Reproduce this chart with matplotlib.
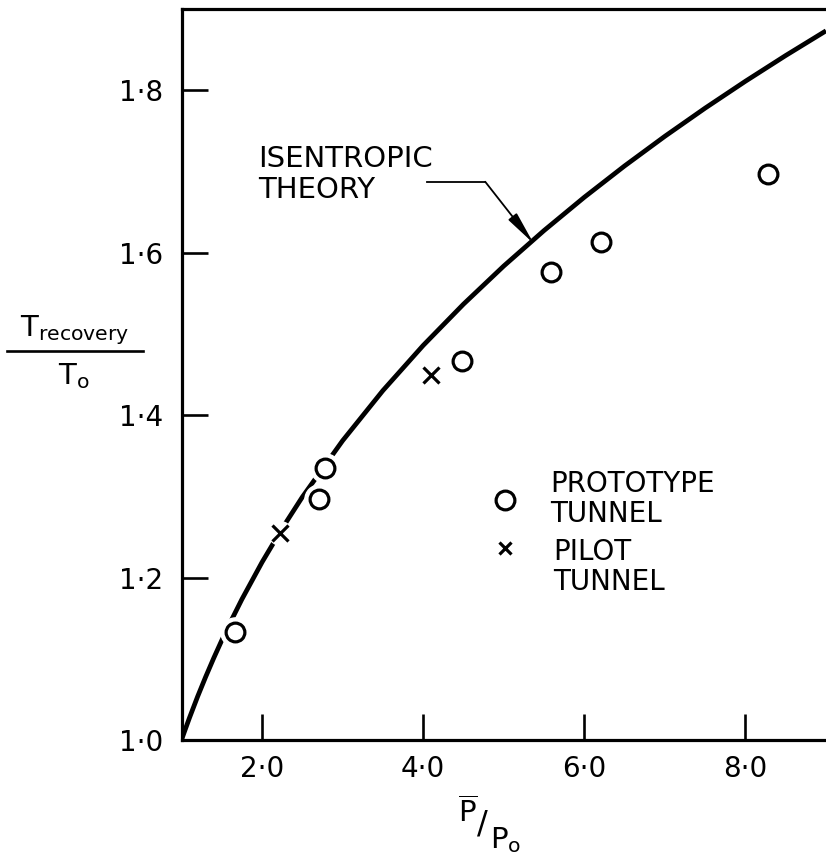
import matplotlib
matplotlib.use("Agg")
import matplotlib.pyplot as plt
from matplotlib.lines import Line2D

plt.rcParams['font.family'] = ['DejaVu Sans']
plt.rcParams['mathtext.fontset'] = 'dejavusans'

# isentropic theory curve
theory_x = [1.0, 1.02, 1.05, 1.1, 1.2, 1.3, 1.4, 1.5, 1.6, 1.75, 2.0, 2.25, 2.5, 3.0,
            3.5, 4.0, 4.5, 5.0, 5.5, 6.0, 6.5, 7.0, 7.5, 8.0, 8.5, 9.0]
theory_y = [1.0, 1.0057, 1.0140, 1.0276, 1.0535, 1.0778, 1.1009, 1.1228, 1.1437, 1.1734,
            1.2190, 1.2607, 1.2993, 1.3687, 1.4304, 1.4860, 1.5368, 1.5838, 1.6275,
            1.6685, 1.7071, 1.7436, 1.7783, 1.8114, 1.8431, 1.8735]

# prototype tunnel (circles)
proto_x = [1.66, 2.71, 2.78, 4.48, 5.59, 6.21, 8.28]
proto_y = [1.133, 1.297, 1.335, 1.467, 1.577, 1.614, 1.697]

# pilot tunnel (crosses)
pilot_x = [2.22, 4.10]
pilot_y = [1.255, 1.450]

xticks = [2.0, 4.0, 6.0, 8.0]
xticklabels = ['2·0', '4·0', '6·0', '8·0']
yticks = [1.0, 1.2, 1.4, 1.6, 1.8]
yticklabels = ['1·0', '1·2', '1·4', '1·6', '1·8']

W, H = 826, 855
fig = plt.figure(figsize=(W / 100, H / 100), dpi=100)
ax = fig.add_axes([181.5 / W, 1 - 740 / H, 1 - 181.5 / W, (740 - 9.3) / H])

ax.plot(theory_x, theory_y, color='black', lw=3.4, zorder=2, solid_capstyle='butt')

# white halos break the curve around the points, as in the drawing
ax.plot(proto_x, proto_y, ls='none', marker='o', ms=21, color='white', zorder=3)
ax.plot(pilot_x, pilot_y, ls='none', marker='o', ms=17, color='white', zorder=3)
ax.plot(proto_x, proto_y, ls='none', marker='o', ms=13.5, mfc='none', mec='black',
        mew=2.3, zorder=4)
ax.plot(pilot_x, pilot_y, ls='none', marker='x', ms=11, mec='black', mew=2.3, zorder=4)

ax.set_xlim(1.0, 9.0)
ax.set_ylim(1.0, 1.9)
ax.set_xticks(xticks)
ax.set_xticklabels(xticklabels)
ax.set_yticks(yticks)
ax.set_yticklabels(yticklabels)
ax.tick_params(direction='in', length=18.5, width=1.9, labelsize=20)
ax.tick_params(axis='x', pad=11)
ax.tick_params(axis='y', pad=13.5)
for s in ['left', 'top', 'bottom']:
    ax.spines[s].set_linewidth(2.3)
ax.spines['right'].set_visible(False)

# annotation
ax.text(1.95, 1.733, 'ISENTROPIC\nTHEORY', fontsize=21, ha='left', va='top',
        linespacing=1.15)
ax.plot([4.046, 4.770], [1.6876, 1.6876], color='black', lw=1.3)
ax.annotate('', xy=(5.370, 1.6117), xytext=(4.770, 1.6876),
            arrowprops=dict(arrowstyle='-|>,head_length=1.0,head_width=0.16',
                            color='black', lw=1.3, shrinkA=0, shrinkB=0,
                            mutation_scale=20))

# key
ax.plot([5.02], [1.2956], ls='none', marker='o', ms=13.5, mfc='none', mec='black', mew=2.3)
ax.plot([5.02], [1.2365], ls='none', marker='x', ms=9, mec='black', mew=2.3)
ax.text(5.578, 1.333, 'PROTOTYPE\nTUNNEL', fontsize=20, ha='left', va='top',
        linespacing=1.1)
ax.text(5.615, 1.249, 'PILOT\nTUNNEL', fontsize=20, ha='left', va='top',
        linespacing=1.1)

# y label as a fraction
fig.text(75 / W, 1 - 347 / H, r'$\mathrm{T}_{\mathrm{recovery}}$', fontsize=21,
         ha='center', va='bottom')
fig.add_artist(Line2D([7 / W, 143 / W], [1 - 351 / H, 1 - 351 / H], color='black', lw=1.9))
fig.text(74 / W, 1 - 361 / H, r'$\mathrm{T}_{\mathrm{o}}$', fontsize=21,
         ha='center', va='top')

# x label  P-bar / P_o
fig.text(468 / W, 1 - 822 / H, r'$\overline{\mathrm{P}}$', fontsize=21, ha='center',
         va='baseline')
fig.text(482 / W, 1 - 823.5 / H, '/', fontsize=23, ha='center', va='center')
fig.text(490 / W, 1 - 848 / H, r'$\mathrm{P}_{\mathrm{o}}$', fontsize=21, ha='left',
         va='baseline')

fig.savefig('out.png', dpi=100)
